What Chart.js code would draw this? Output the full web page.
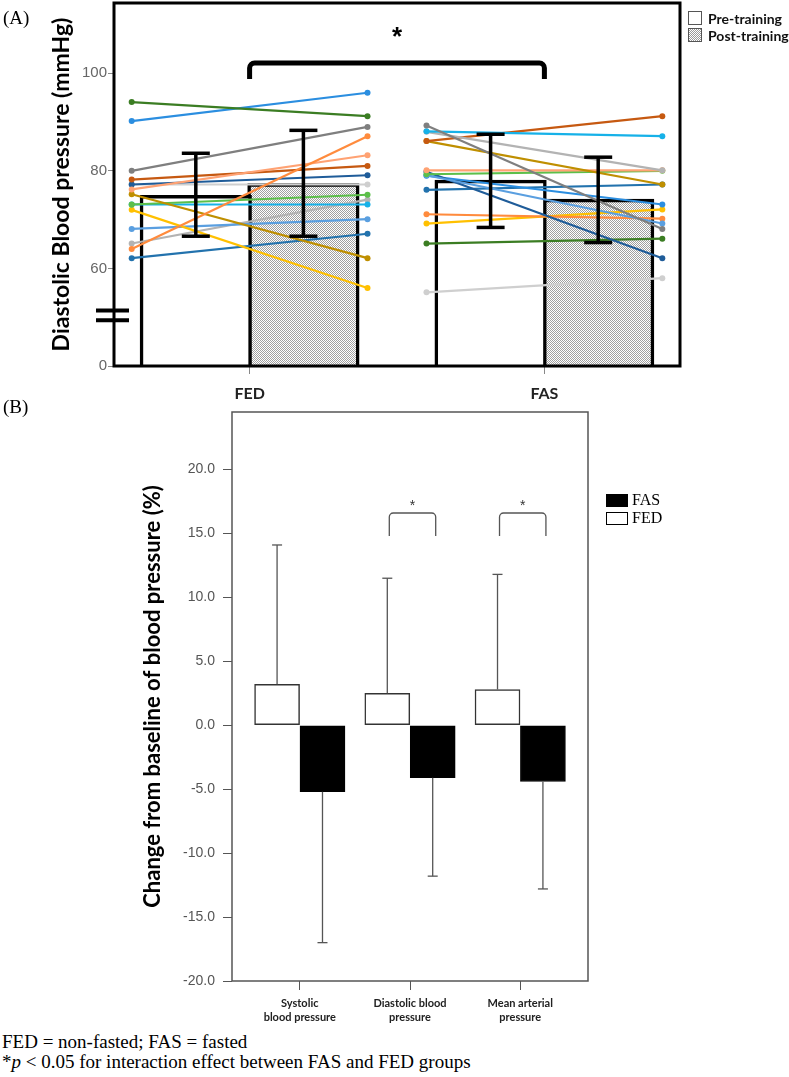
<!DOCTYPE html>
<html>
<head>
<meta charset="utf-8">
<script src="https://cdn.jsdelivr.net/npm/chart.js@4.4.0/dist/chart.umd.min.js"></script>
<style>
  body { margin: 0; background: #fff; }
  #page { position: relative; width: 789px; height: 1077px; overflow: hidden; background: #fff; }
  canvas { position: absolute; left: 0; }
  .serif { position: absolute; font-family: 'Liberation Serif', 'Times New Roman', serif; color: #000; white-space: nowrap; }
  .legA { position: absolute; left: 688px; display: flex; align-items: center; height: 16px;
          font: bold 14px 'Lato', sans-serif; color: #111; }
  .legA .box { width: 12px; height: 12px; border: 1px solid #555; margin-right: 6px; background: #fff; }
  .legA .dots { background-image: repeating-conic-gradient(#9a9a9a 0 25%, #fff 0 50%); background-size: 2px 2px; }
  .legB { position: absolute; left: 606px; display: flex; align-items: center; height: 16px;
          font: 16px 'Liberation Serif', serif; color: #000; }
  .legB .box { width: 20px; height: 11px; border: 1.5px solid #000; margin-right: 4px; }
</style>
</head>
<body>
<div id="page">
  <canvas id="chartA" width="789" height="400" style="top:0"></canvas>
  <canvas id="chartB" width="789" height="630" style="top:400px"></canvas>

  <div class="serif" style="left:3px; top:8px; font-size:19px; line-height:20px;">(A)</div>
  <div class="serif" style="left:3px; top:397px; font-size:19px; line-height:20px;">(B)</div>

  <div class="legA" style="top:10px;"><div class="box"></div>Pre-training</div>
  <div class="legA" style="top:27px;"><div class="box dots"></div>Post-training</div>

  <div class="legB" style="top:492px;"><div class="box" style="background:#000"></div>FAS</div>
  <div class="legB" style="top:510px;"><div class="box" style="background:#fff"></div>FED</div>

  <div class="serif" style="left:2px; top:1032px; font-size:19px; line-height:20px;">FED = non-fasted; FAS = fasted<br>*<i>p</i> &lt; 0.05 for interaction effect between FAS and FED groups</div>
</div>

<script>
/* ---- PANEL A: diastolic BP, group means + individual subjects ---- */
const groups   = ['FED', 'FAS'];
const meanPre  = [75.0, 78.1];
const meanPost = [77.4, 74.2];
const preLow   = [66.6, 68.4];
const preHigh  = [83.6, 87.5];
const postLow  = [66.6, 65.3];
const postHigh = [88.3, 82.8];
const yTicksA  = [0, 60, 80, 100];

const fedPre  = [94.1, 90.2, 80.0, 64.0, 76.2, 78.2, 77.2, 77.2, 75.2, 73.1, 73.1, 72.0, 68.1, 65.1, 62.1];
const fedPost = [91.2, 96.0, 89.0, 87.1, 83.2, 81.0, 79.1, 77.2, 62.1, 75.1, 73.1, 56.0, 70.1, 74.1, 67.1];
const fedColors = ['#3b7d23', '#2b8ee0', '#7f7f7f', '#ff8b3d', '#ffa273', '#c65911', '#1f5c99', '#cfcfcf',
                   '#bf8f00', '#5cbf4a', '#16b1e8', '#ffc000', '#5a9fe0', '#b3b3b3', '#2272ad'];

const fasPre  = [89.3, 88.1, 88.0, 86.1, 86.1, 80.1, 79.3, 79.1, 79.8, 79.0, 76.1, 71.1, 69.2, 65.1, 55.1];
const fasPost = [68.1, 87.1, 80.1, 91.2, 77.2, 80.1, 80.0, 69.2, 62.1, 73.1, 77.2, 70.2, 72.1, 66.1, 58.0];
const fasColors = ['#7f7f7f', '#16b1e8', '#b3b3b3', '#c65911', '#bf8f00', '#ffa273', '#5cbf4a', '#5a9fe0',
                   '#1f5c99', '#2b8ee0', '#2272ad', '#ff8b3d', '#ffc000', '#3b7d23', '#cfcfcf'];

/* ---- PANEL B: % change from baseline ---- */
const measures = [['Systolic', 'blood pressure'], ['Diastolic blood', 'pressure'], ['Mean arterial', 'pressure']];
const fedChange = [3.2, 2.5, 2.8];
const fedUpper  = [14.1, 11.5, 11.8];
const fasChange = [-5.2, -4.1, -4.4];
const fasLower  = [-17.0, -11.8, -12.8];
const sigB      = [1, 2];            // measures with * between groups
const yTicksB   = [-20, -15, -10, -5, 0, 5, 10, 15, 20];

// layout helpers (scale units, not data)
const BREAK_BASE = 40;     // where the broken axis shows "0"
const BREAK_MARK = 50.4;
const BAR_OFF_A = 0.365, LINE_REACH = 0.8;
const BAR_OFF_B = 0.206;
const groupX = i => 1 + 2 * i;

function dotPattern() {
  const c = document.createElement('canvas');
  c.width = 2; c.height = 2;
  const g = c.getContext('2d');
  g.fillStyle = '#fff'; g.fillRect(0, 0, 2, 2);
  g.fillStyle = '#a0a0a0'; g.fillRect(0, 0, 1, 1); g.fillRect(1, 1, 1, 1);
  return g.createPattern(c, 'repeat');
}

function subjectLines(pre, post, colors, gi) {
  return pre.map((v, i) => ({
    type: 'line',
    data: [{ x: groupX(gi) - LINE_REACH, y: v }, { x: groupX(gi) + LINE_REACH, y: post[i] }],
    borderColor: colors[i], backgroundColor: colors[i],
    borderWidth: 2.2, pointRadius: 3, pointBorderWidth: 0, order: 1
  }));
}

function seg(ctx, x1, y1, x2, y2) { ctx.beginPath(); ctx.moveTo(x1, y1); ctx.lineTo(x2, y2); ctx.stroke(); }

function bracket(ctx, x1, x2, yTop, yLeg, r) {
  ctx.beginPath();
  ctx.moveTo(x1, yLeg);
  ctx.arcTo(x1, yTop, x2, yTop, r);
  ctx.arcTo(x2, yTop, x2, yLeg, r);
  ctx.lineTo(x2, yLeg);
  ctx.stroke();
}

// keep tick-label overhang from pushing the plot area around
const noPadY = s => { s.paddingTop = 0; s.paddingBottom = 0; };
const noPadX = s => { s.paddingLeft = 0; s.paddingRight = 0; };

const panelADecor = {
  id: 'panelADecor',
  afterDatasetsDraw(chart) {
    const { ctx, chartArea: a, scales: { x, y } } = chart;
    ctx.save();
    ctx.strokeStyle = '#000';
    ctx.lineWidth = 3;
    ctx.strokeRect(a.left, a.top, a.right - a.left, a.bottom - a.top);
    // axis break
    ctx.lineWidth = 4;
    [BREAK_MARK + 1, BREAK_MARK - 1].forEach(v => {
      const py = y.getPixelForValue(v);
      seg(ctx, a.left - 18, py, a.left + 15, py);
    });
    // error bars
    ctx.lineWidth = 3.5;
    groups.forEach((g, i) => {
      [[-BAR_OFF_A, preLow[i], preHigh[i]], [BAR_OFF_A, postLow[i], postHigh[i]]].forEach(([off, lo, hi]) => {
        const px = x.getPixelForValue(groupX(i) + off);
        const yl = y.getPixelForValue(lo), yh = y.getPixelForValue(hi);
        seg(ctx, px, yl, px, yh);
        seg(ctx, px - 14, yl, px + 14, yl);
        seg(ctx, px - 14, yh, px + 14, yh);
      });
    });
    // significance bracket FED vs FAS
    ctx.lineWidth = 5;
    bracket(ctx, x.getPixelForValue(groupX(0)), x.getPixelForValue(groupX(1)),
            y.getPixelForValue(102.1), y.getPixelForValue(98.8), 5);
    ctx.fillStyle = '#000';
    ctx.font = 'bold 26px "Liberation Sans", sans-serif';
    ctx.textAlign = 'center';
    ctx.textBaseline = 'middle';
    ctx.fillText('*', x.getPixelForValue((groupX(0) + groupX(1)) / 2), y.getPixelForValue(108.1) + 4);
    ctx.restore();
  }
};

const panelBDecor = {
  id: 'panelBDecor',
  afterDatasetsDraw(chart) {
    const { ctx, chartArea: a, scales: { x, y } } = chart;
    ctx.save();
    ctx.strokeStyle = '#555';
    ctx.lineWidth = 1.5;
    ctx.strokeRect(a.left, a.top, a.right - a.left, a.bottom - a.top);
    // one-sided error bars
    ctx.lineWidth = 1.3;
    measures.forEach((m, i) => {
      const fx = x.getPixelForValue(i + 1 - BAR_OFF_B);
      const fy = y.getPixelForValue(fedUpper[i]);
      seg(ctx, fx, y.getPixelForValue(fedChange[i]), fx, fy);
      seg(ctx, fx - 5, fy, fx + 5, fy);
      const sx = x.getPixelForValue(i + 1 + BAR_OFF_B);
      const sy = y.getPixelForValue(fasLower[i]);
      seg(ctx, sx, y.getPixelForValue(fasChange[i]), sx, sy);
      seg(ctx, sx - 5, sy, sx + 5, sy);
    });
    // significance brackets
    ctx.fillStyle = '#333';
    ctx.font = '14px "Liberation Sans", sans-serif';
    ctx.textAlign = 'center';
    ctx.textBaseline = 'middle';
    sigB.forEach(i => {
      const x1 = x.getPixelForValue(i + 1 - BAR_OFF_B) + 2, x2 = x.getPixelForValue(i + 1 + BAR_OFF_B) + 3;
      bracket(ctx, x1, x2, y.getPixelForValue(16.6), y.getPixelForValue(14.8), 4);
      ctx.fillText('*', (x1 + x2) / 2, y.getPixelForValue(17.4) + 3);
    });
    ctx.restore();
  }
};

const dots = dotPattern();

new Chart(document.getElementById('chartA'), {
  type: 'bar',
  data: {
    datasets: [
      {
        label: 'Pre-training',
        data: meanPre.map((v, i) => ({ x: groupX(i) - BAR_OFF_A, y: v })),
        backgroundColor: '#fff', borderColor: '#000', borderWidth: 3.5, borderSkipped: 'start',
        barThickness: 111.5, grouped: false, order: 2
      },
      {
        label: 'Post-training',
        data: meanPost.map((v, i) => ({ x: groupX(i) + BAR_OFF_A, y: v })),
        backgroundColor: dots, borderColor: '#000', borderWidth: 3.5, borderSkipped: 'start',
        barThickness: 111.5, grouped: false, order: 2
      },
      ...subjectLines(fedPre, fedPost, fedColors, 0),
      ...subjectLines(fasPre, fasPost, fasColors, 1)
    ]
  },
  options: {
    responsive: false, animation: false,
    layout: { autoPadding: false, padding: { left: 48, right: 109, top: 3, bottom: 0 } },
    plugins: { legend: { display: false }, tooltip: { enabled: false } },
    scales: {
      x: {
        type: 'linear', min: 0.08, max: 3.92, offset: false,
        afterBuildTicks: s => { s.ticks = groups.map((g, i) => ({ value: groupX(i) })); },
        afterFit: s => { s.height = 34; noPadX(s); },
        ticks: { callback: (v, i) => groups[i], autoSkip: false, maxRotation: 0, padding: 10,
                 color: '#222', font: { family: 'Lato', size: 16, weight: 'bold' } },
        grid: { offset: false, drawOnChartArea: false, tickLength: 8, color: '#888' },
        border: { display: false }
      },
      y: {
        min: BREAK_BASE, max: 114.4,
        afterBuildTicks: s => { s.ticks = yTicksA.map(v => ({ value: v === 0 ? BREAK_BASE : v })); },
        afterFit: s => { s.width = 66; noPadY(s); },
        ticks: { callback: v => v === BREAK_BASE ? '0' : v, padding: 1, color: '#666',
                 font: { family: 'Liberation Sans', size: 15 } },
        grid: { drawOnChartArea: false, tickLength: 6, color: '#888' },
        border: { display: false },
        title: { display: true, text: 'Diastolic Blood pressure (mmHg)', color: '#000', padding: 0,
                 font: { family: 'Lato', size: 23, weight: 'bold', lineHeight: 1.2 } }
      }
    }
  },
  plugins: [panelADecor]
});

new Chart(document.getElementById('chartB'), {
  type: 'bar',
  data: {
    datasets: [
      {
        label: 'FED',
        data: fedChange.map((v, i) => ({ x: i + 1 - BAR_OFF_B, y: v })),
        backgroundColor: '#fff', borderColor: '#333', borderWidth: 1.5, borderSkipped: false,
        barThickness: 45, grouped: false
      },
      {
        label: 'FAS',
        data: fasChange.map((v, i) => ({ x: i + 1 + BAR_OFF_B, y: v })),
        backgroundColor: '#000', borderColor: '#000', borderWidth: 1, borderSkipped: false,
        barThickness: 45, grouped: false
      }
    ]
  },
  options: {
    responsive: false, animation: false,
    layout: { autoPadding: false, padding: { left: 140, right: 201, top: 12, bottom: 0 } },
    plugins: { legend: { display: false }, tooltip: { enabled: false } },
    scales: {
      x: {
        type: 'linear', min: 0.385, max: 3.615, offset: false,
        afterBuildTicks: s => { s.ticks = measures.map((m, i) => ({ value: i + 1 })); },
        afterFit: s => { s.height = 49; noPadX(s); },
        ticks: { callback: (v, i) => measures[i], autoSkip: false, maxRotation: 0, padding: 7,
                 color: '#222', font: { family: 'Lato', size: 11, weight: 'bold', lineHeight: 1.25 } },
        grid: { offset: false, drawOnChartArea: false, tickLength: 9, color: '#555' },
        border: { display: false }
      },
      y: {
        min: -20, max: 24.5,
        afterBuildTicks: s => { s.ticks = yTicksB.map(v => ({ value: v })); },
        afterFit: s => { s.width = 92; noPadY(s); },
        ticks: { callback: v => v.toFixed(1), padding: 8, color: '#555',
                 font: { family: 'Liberation Sans', size: 14 } },
        grid: { drawOnChartArea: false, tickLength: 9, color: '#555' },
        border: { display: false },
        title: { display: true, text: 'Change from baseline of blood pressure (%)', color: '#000', padding: 0,
                 font: { family: 'Lato', size: 22, weight: 'bold', lineHeight: 1.2 } }
      }
    }
  },
  plugins: [panelBDecor]
});
</script>
</body>
</html>
